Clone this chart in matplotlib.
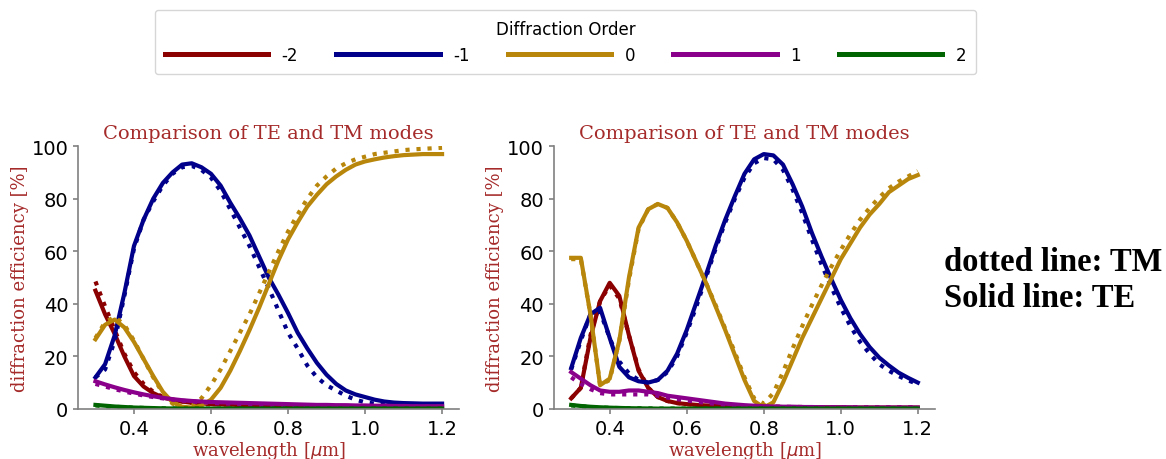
import matplotlib
matplotlib.use('Agg')
import matplotlib.pyplot as plt
import numpy as np

# wavelength grid [um], 0.3 .. 1.2 step 0.025
wl = np.round(np.arange(0.3, 1.2001, 0.025), 3)

orders = ['-2', '-1', '0', '1', '2']
colors = ['darkred', 'darkblue', 'darkgoldenrod', 'darkmagenta', 'darkgreen']

# ---- left panel ----
L_m2_TE = [45, 36, 28.5, 20, 12.5, 8.5, 6, 4.3, 3.5, 2.8, 2.3, 2, 1.8, 1.7, 1.6, 1.5, 1.4, 1.3, 1.2, 1.2,
           1.1, 1.1, 1, 1, 0.9, 0.9, 0.8, 0.8, 0.8, 0.7, 0.7, 0.7, 0.6, 0.6, 0.6, 0.5, 0.5]
L_m2_TM = [48.5, 39, 30, 21, 14, 9.5, 6.5, 4.5, 3.5, 2.8, 2.3, 2, 1.8, 1.7, 1.6, 1.5, 1.4, 1.3, 1.2, 1.2,
           1.1, 1.1, 1, 1, 0.9, 0.9, 0.8, 0.8, 0.8, 0.7, 0.7, 0.7, 0.6, 0.6, 0.6, 0.5, 0.5]
L_m1_TE = [12, 17, 28, 44, 62, 72, 80, 86, 90, 93, 93.5, 92, 89.5, 85, 78.5, 72.5, 66, 58, 50, 43.5,
           36.5, 29, 23, 17.5, 13, 9.5, 7, 5.5, 4.5, 3.5, 2.8, 2.4, 2.2, 2.1, 2, 2, 2]
L_m1_TM = [12, 15, 26, 43, 61, 72, 79, 85, 89.5, 92, 92.5, 91, 88, 83, 76, 69, 62, 54, 46, 37.5,
           29, 23, 16.5, 12, 9, 7, 5, 3.5, 2.5, 2, 1.5, 1.2, 1, 1, 1, 1, 1]
L_0_TE = [26.5, 32, 34, 31, 25.5, 19, 12.5, 6.5, 2.5, 0.8, 0.5, 1.2, 3.5, 8, 14.5, 22, 30, 38.5, 47.5, 56.5,
          64.5, 71, 77, 81.5, 85.5, 88.5, 91, 93, 94.2, 95, 95.7, 96.2, 96.6, 96.8, 97, 97, 97]
L_0_TM = [27, 33, 35, 32, 26, 19, 12, 6, 2, 0.5, 1, 4, 9, 15, 22, 29, 36, 44, 52, 60,
          67.5, 74, 80, 85, 88.5, 91.5, 93.5, 95, 96, 97, 97.5, 98, 98.5, 98.8, 99, 99.2, 99.4]
L_p1_TE = [10.5, 9.3, 8.2, 7.2, 6.3, 5.5, 4.8, 4.2, 3.7, 3.3, 3, 2.8, 2.6, 2.5, 2.4, 2.3, 2.2, 2.1, 2, 1.9,
           1.8, 1.7, 1.6, 1.5, 1.5, 1.4, 1.4, 1.3, 1.3, 1.2, 1.2, 1.1, 1.1, 1, 1, 1, 1]
L_p1_TM = [9.5, 8.5, 7.5, 6.6, 5.8, 5.1, 4.5, 4, 3.5, 3.1, 2.8, 2.5, 2.3, 2.1, 2, 1.9, 1.8, 1.7, 1.6, 1.5,
           1.4, 1.4, 1.3, 1.2, 1.2, 1.1, 1.1, 1, 1, 1, 0.9, 0.9, 0.9, 0.8, 0.8, 0.8, 0.8]
L_p2_TE = [1.5, 1.2, 0.9, 0.7, 0.5, 0.4, 0.3, 0.2, 0.15, 0.1, 0.1, 0.1, 0.1, 0.1, 0.1, 0.1, 0.1, 0.1, 0.1, 0.1,
           0.1, 0.1, 0.1, 0.1, 0.1, 0.1, 0.1, 0.1, 0.1, 0.1, 0.1, 0.1, 0.1, 0.1, 0.1, 0.1, 0.1]
L_p2_TM = [1.3, 1.0, 0.8, 0.6, 0.45, 0.35, 0.25, 0.2, 0.15, 0.1, 0.1, 0.1, 0.1, 0.1, 0.1, 0.1, 0.1, 0.1, 0.1, 0.1,
           0.1, 0.1, 0.1, 0.1, 0.1, 0.1, 0.1, 0.1, 0.1, 0.1, 0.1, 0.1, 0.1, 0.1, 0.1, 0.1, 0.1]

# ---- right panel ----
R_m2_TE = [4, 8, 27, 41, 48, 43, 28, 14.5, 8, 4.5, 3, 2.2, 1.8, 1.5, 1.3, 1.2, 1.1, 1, 0.9, 0.9,
           0.8, 0.8, 0.7, 0.7, 0.7, 0.6, 0.6, 0.6, 0.6, 0.5, 0.5, 0.5, 0.5, 0.5, 0.5, 0.5, 0.5]
R_m2_TM = [4, 8, 28, 41, 47, 42, 28, 15, 8, 4.5, 3, 2.2, 1.8, 1.5, 1.3, 1.2, 1.1, 1, 0.9, 0.9,
           0.8, 0.8, 0.7, 0.7, 0.7, 0.6, 0.6, 0.6, 0.6, 0.5, 0.5, 0.5, 0.5, 0.5, 0.5, 0.5, 0.5]
R_m1_TE = [15.5, 27, 36, 38.5, 27, 16, 12, 10.5, 10, 11, 14.5, 21, 30, 40.5, 51, 62, 72, 81, 89.5, 95,
           97, 96.5, 93, 85.5, 77, 67, 58, 49.5, 41.5, 34.5, 28.5, 23.5, 19.5, 16.5, 13.8, 11.8, 10]
R_m1_TM = [15, 26, 36, 37, 27, 18, 13.5, 11, 10, 11, 14, 20, 29, 39, 50, 61, 71, 80, 88, 93.5,
           95.5, 95, 91, 83.5, 74.5, 64.5, 55, 46.5, 38.5, 31.5, 25.5, 21, 17, 14.5, 12.5, 10.8, 9.5]
R_0_TE = [57.5, 57.5, 36, 9, 11.5, 26, 50, 69, 76, 78, 76.5, 71, 64, 56, 48, 39, 30, 20.5, 11, 3,
          0.5, 2.5, 10, 18.5, 27, 34.5, 42, 49.5, 57, 63, 69, 74, 78, 82.5, 85, 87.5, 89]
R_0_TM = [57, 57, 36, 9, 11, 26, 49, 68.5, 76, 78, 76.5, 71, 64, 56, 48, 39.5, 30.5, 21.5, 12, 4,
          2, 6, 14, 23, 31.5, 39.5, 47, 54, 60.5, 66.5, 72, 76.5, 80.5, 84, 86.5, 88.5, 90.5]
R_p1_TE = [14, 11.5, 9, 7, 6.5, 6.5, 7, 7, 6.5, 6, 5, 4.5, 4, 3.5, 3, 2.5, 2, 1.7, 1.4, 1.2,
           1, 0.9, 0.8, 0.8, 0.7, 0.7, 0.6, 0.6, 0.6, 0.6, 0.5, 0.5, 0.5, 0.5, 0.5, 0.5, 0.5]
R_p1_TM = [12, 9.5, 7.5, 6, 5.5, 5.5, 5.5, 5.5, 5.5, 5, 4.3, 3.7, 3.2, 2.7, 2.3, 1.9, 1.6, 1.3, 1.1, 1,
           0.9, 0.8, 0.8, 0.7, 0.7, 0.6, 0.6, 0.6, 0.5, 0.5, 0.5, 0.5, 0.5, 0.5, 0.5, 0.5, 0.5]
R_p2_TE = [1.5, 1.1, 0.8, 0.6, 0.45, 0.35, 0.25, 0.2, 0.15, 0.1, 0.1, 0.1, 0.1, 0.1, 0.1, 0.1, 0.1, 0.1, 0.1, 0.1,
           0.1, 0.1, 0.1, 0.1, 0.1, 0.1, 0.1, 0.1, 0.1, 0.1, 0.1, 0.1, 0.1, 0.1, 0.1, 0.1, 0.1]
R_p2_TM = [1.3, 1.0, 0.7, 0.5, 0.4, 0.3, 0.25, 0.2, 0.15, 0.1, 0.1, 0.1, 0.1, 0.1, 0.1, 0.1, 0.1, 0.1, 0.1, 0.1,
           0.1, 0.1, 0.1, 0.1, 0.1, 0.1, 0.1, 0.1, 0.1, 0.1, 0.1, 0.1, 0.1, 0.1, 0.1, 0.1, 0.1]

left_TE = [L_m2_TE, L_m1_TE, L_0_TE, L_p1_TE, L_p2_TE]
left_TM = [L_m2_TM, L_m1_TM, L_0_TM, L_p1_TM, L_p2_TM]
right_TE = [R_m2_TE, R_m1_TE, R_0_TE, R_p1_TE, R_p2_TE]
right_TM = [R_m2_TM, R_m1_TM, R_0_TM, R_p1_TM, R_p2_TM]

title_color = '#a52a2a'
lw = 3

fig = plt.figure(figsize=(11.66, 4.6), dpi=100)
ax1 = fig.add_axes([0.067, 0.109, 0.327, 0.571])
ax2 = fig.add_axes([0.475, 0.109, 0.327, 0.571])

handles = []
for ax, TE, TM in [(ax1, left_TE, left_TM), (ax2, right_TE, right_TM)]:
    for i in range(5):
        h, = ax.plot(wl, TE[i], color=colors[i], lw=lw, label=orders[i])
        ax.plot(wl, TM[i], color=colors[i], lw=lw, ls=':')
        if ax is ax1:
            handles.append(h)
    ax.set_ylim(0, 100)
    ax.set_xticks([0.4, 0.6, 0.8, 1.0, 1.2])
    ax.set_yticks([0, 20, 40, 60, 80, 100])
    ax.tick_params(labelsize=14, color='gray', width=1.2)
    for s in ['top', 'right']:
        ax.spines[s].set_visible(False)
    for s in ['left', 'bottom']:
        ax.spines[s].set_color('gray')
        ax.spines[s].set_linewidth(1.2)
    ax.set_title('Comparison of TE and TM modes', family='DejaVu Serif',
                 color=title_color, fontsize=14)
    ax.set_xlabel(r'wavelength [$\mu$m]', family='DejaVu Serif', color=title_color,
                  fontsize=13, labelpad=1)
    ax.set_ylabel('diffraction efficiency [%]', family='DejaVu Serif', color=title_color,
                  fontsize=13, labelpad=2)

leg = fig.legend(handles=handles, loc='upper center', bbox_to_anchor=(0.485, 0.995),
                 ncol=5, title='Diffraction Order', fontsize=12, title_fontsize=12,
                 handlelength=6.2, columnspacing=2.3, borderpad=0.6)
for ln in leg.get_lines():
    ln.set_linewidth(3.6)

fig.text(0.81, 0.39, 'dotted line: TM\nSolid line: TE', family='Liberation Serif',
         fontweight='bold', fontsize=23.5, va='center', ha='left', linespacing=1.22)

fig.savefig('out.png', dpi=100)
